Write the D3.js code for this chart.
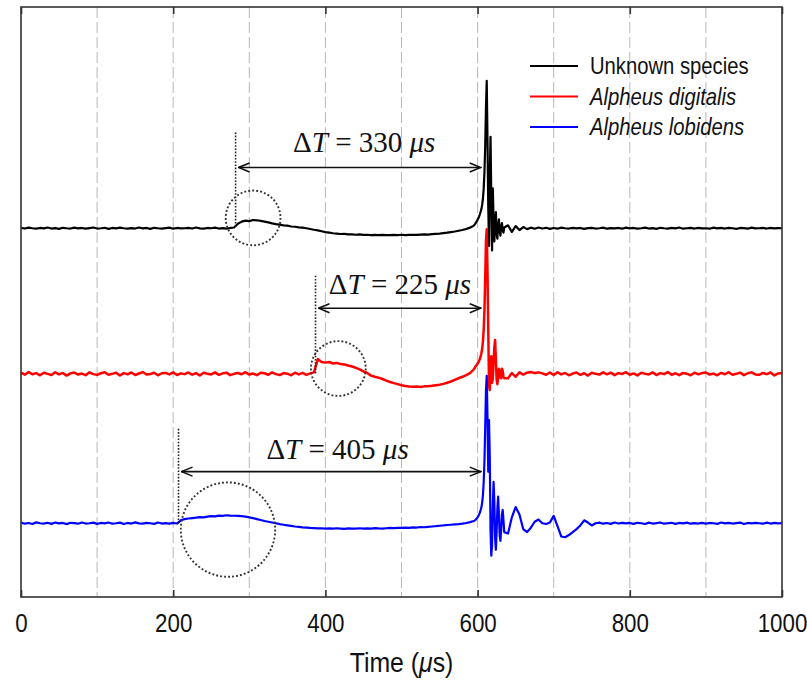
<!DOCTYPE html>
<html>
<head>
<meta charset="utf-8">
<script src="https://cdn.jsdelivr.net/npm/d3@7"></script>
<style>
  body { margin: 0; background: #fff; }
</style>
</head>
<body>
<div id="chart"></div>
<script>
// Sample times (µs) shared by the three recordings
const sampleTimes = [
  0, 5, 10, 15, 20, 25, 30, 35, 40, 45, 50, 55, 60, 65, 70, 75, 80, 85, 90, 95,
  100, 105, 110, 115, 120, 125, 130, 135, 140, 145, 150, 155, 160, 165, 170, 175, 180, 185, 190, 195,
  200, 205, 210, 215, 220, 225, 230, 235, 240, 245, 250, 255, 260, 265, 270, 275, 280, 285, 290, 295,
  300, 305, 310, 315, 320, 325, 330, 335, 340, 345, 350, 355, 360, 365, 370, 375, 380, 385, 390, 395,
  400, 405, 410, 415, 420, 425, 430, 435, 440, 445, 450, 455, 460, 465, 470, 475, 480, 485, 490, 495,
  500, 505, 510, 515, 520, 525, 530, 535, 540, 545, 550, 555, 560, 565, 570, 575, 580, 585, 590, 595,
  596, 597, 598, 599, 600, 601, 602, 603, 604, 605, 606, 607, 608, 609, 610, 611, 612, 613, 614, 615,
  616, 617, 618, 619, 620, 621, 622, 623, 624, 625, 626, 627, 628, 629, 630, 631, 632, 633, 634, 635,
  640, 645, 650, 655, 660, 665, 670, 675, 680, 685, 690, 695,
  700, 705, 710, 715, 720, 725, 730, 735, 740, 745, 750, 755, 760, 765, 770, 775, 780, 785, 790, 795,
  800, 805, 810, 815, 820, 825, 830, 835, 840, 845, 850, 855, 860, 865, 870, 875, 880, 885, 890, 895,
  900, 905, 910, 915, 920, 925, 930, 935, 940, 945, 950, 955, 960, 965, 970, 975, 980, 985, 990, 995,
  1000
];

// Signal amplitudes (arbitrary units, peak ~1000)
const unknownValues = [
  3, -2, 4, 0, -3, 2, -1, 5, -2, 1, -4, 3, 0, -2, 4, -1, 2, -3, 1, 5,
  -2, 0, 3, -4, 2, -1, 4, 0, -3, 1, -2, 5, -1, 2, -4, 3, 0, -2, 1, 4,
  -3, 2, -1, 0, 3, -2, 5, -1, -3, 2, 0, 4, -2, 1, -3, 2, 5, 30, 45, 52,
  48, 56, 54, 50, 45, 40, 33, 28, 24, 20, 18, 12, 10, 6, 4, 0, -5, -10, -14, -20,
  -26, -30, -34, -36, -39, -38, -42, -41, -44, -42, -45, -44, -46, -45, -47, -45, -46, -47, -45, -46,
  -44, -46, -45, -44, -45, -43, -42, -43, -40, -38, -36, -33, -30, -26, -22, -17, -12, -5, 4, 18,
  25, 32, 40, 48, 58, 68, 80, 95, 112, 130, 160, 200, 270, 380, 560, 820, 1000, 600, 150, -120,
  350, 620, 200, -150, 270, 60, -90, 40, 110, -40, -70, 30, 60, -20, -50, 10, 35, -15, -30, 5,
  20, -25, 15, -12, 8, -6, 4, -3, 5, -2, 3, -4,
  2, -3, 4, 0, -2, 3, -1, 2, -4, 1, 3, -2, 0, 4, -3, 1, -1, 2, -3, 4,
  -1, 2, -3, 0, 4, -2, 1, -4, 3, 0, -2, 2, -1, 5, -3, 0, 2, -2, 3, -1,
  0, -3, 4, -1, 2, -2, 3, 0, -4, 2, 1, -3, 4, -1, 0, 2, -2, 3, -1, 1,
  0
];

const digitalisValues = [
  8, -6, 12, -3, 5, -10, 7, 0, -8, 11, -4, 6, -12, 3, 9, -5, 2, -9, 10, -2,
  -7, 4, 11, -6, 0, 8, -11, 5, -3, 9, -8, 2, 12, -5, -1, 7, -10, 4, 6, -4,
  10, -8, 3, -2, 9, -6, 5, -11, 7, 1, -4, 10, -7, 3, 8, -9, 0, 6, -3, 11,
  -5, 2, -9, 7, 4, -6, 10, -2, -8, 5, 1, -10, 8, -4, 6, -7, 3, 10, 100, 80,
  76, 80, 70, 74, 66, 63, 56, 50, 41, 30, 16, 6, -12, -20, -26, -35, -46, -55, -63, -70,
  -77, -82, -86, -88, -86, -89, -85, -84, -81, -77, -74, -68, -60, -52, -41, -30, -20, -8, 5, 30,
  38, 48, 55, 60, 70, 78, 88, 100, 118, 140, 170, 220, 300, 430, 650, 900, 980, 700, 300, -80,
  -110, 60, 120, -60, -30, 80, 180, 230, 100, -40, -70, -20, 35, 20, -25, -30, 35, 20, -20, -30,
  -30, 5, -20, 10, -5, 8, 12, 5, 10, 3, -6, 9,
  -8, 11, -4, 6, -10, 2, 9, -7, 4, -12, 7, 0, -5, 10, -3, 8, -9, 5, -1, 11,
  -6, 3, -11, 8, 0, -4, 10, -8, 5, -2, 12, -7, 4, -9, 6, 1, -10, 8, -3, 5,
  9, -5, 2, -10, 7, -3, 11, -6, 0, 8, -9, 4, 10, -4, -7, 6, -2, 9, -11, 3,
  5
];

const lobidensValues = [
  4, -3, 2, -5, 6, 0, -2, 3, -4, 5, -1, 2, -6, 3, 1, -3, 5, -2, 0, 4,
  -4, 2, -1, 5, -3, 0, 4, -5, 2, -2, 6, -1, -3, 3, 0, -4, 5, -2, 1, -3,
  3, -2, 20, 28, 32, 35, 38, 42, 40, 45, 48, 47, 52, 50, 54, 52, 51, 50, 48, 45,
  40, 35, 28, 22, 15, 10, 5, 0, -6, -10, -14, -18, -22, -25, -28, -30, -32, -33, -35, -34,
  -36, -35, -37, -34, -36, -38, -35, -37, -36, -34, -37, -35, -36, -33, -35, -36, -34, -32, -33, -31,
  -32, -30, -31, -28, -29, -26, -27, -24, -22, -20, -17, -15, -12, -10, -8, -6, -3, 2, 8, 15,
  18, 22, 28, 34, 40, 50, 60, 72, 90, 110, 140, 190, 280, 420, 650, 900, 1000, 720, 350, 700,
  450, -50, -220, -150, 120, 280, 150, -100, -180, -60, 100, 180, 60, -80, -120, -40, 60, 90, 20, -60,
  -70, 40, 110, 60, -40, -60, -30, 10, 25, 0, -5, 5,
  50, -20, -90, -95, -80, -60, -40, -15, 20, 5, -15, 0, 4, -3, 2, -4, 5, -2, 3, -1,
  2, -4, 3, 0, -5, 4, -2, 1, 5, -3, 0, 3, -4, 2, -1, 4, -3, 1, -2, 3,
  -3, 2, 0, -4, 5, -1, 3, -2, 1, 4, -5, 2, -1, 3, 0, -3, 4, -2, 2, -1,
  1
];

const seriesNames = ["Unknown species", "Alpheus digitalis", "Alpheus lobidens"];
const seriesValues = [unknownValues, digitalisValues, lobidensValues];
const seriesOffsets = [2000, 1013, 0];   // vertical stacking of the traces

// Delta-T annotations (one per trace)
const onsetTimes = [282, 387, 207];
const deltaTimes = [330, 225, 405];
const markerHeights = [650, 665, 640];
const arrowLevels = [412, 445, 350];
const labelTimes = [451, 498, 416];
const labelLevels = [514, 542, 437];
const circleTimes = [305, 417, 272];
const circleLevels = [70, 36, -43];
const circleRadii = [36, 36, 62];      // in µs

const xTicks = [0, 200, 400, 600, 800, 1000];
const gridTimes = [100, 200, 300, 400, 500, 600, 700, 800, 900];

seriesValues.forEach(v => {
  if (v.length !== sampleTimes.length) throw new Error("length mismatch " + v.length);
});

const colors = ["#000000", "#ff0000", "#0000ff"];

// Set the dimensions and margins of the graph
const margin = { top: 7, right: 25, bottom: 88, left: 21 },
  width = 807 - margin.left - margin.right,
  height = 685 - margin.top - margin.bottom;

const svg = d3.select("#chart")
  .append("svg")
  .attr("width", 807)
  .attr("height", 685)
  .append("g")
  .attr("transform", `translate(${margin.left},${margin.top})`);

const x = d3.scaleLinear().domain([0, 1000]).range([0, width]);
const y = d3.scaleLinear().domain([-500, 3500]).range([height, 0]);

// Dashed grid lines
svg.append("g")
  .selectAll("line")
  .data(gridTimes)
  .join("line")
  .attr("x1", d => x(d))
  .attr("x2", d => x(d))
  .attr("y1", 0)
  .attr("y2", height)
  .attr("stroke", "#b8b8b8")
  .attr("stroke-width", 1)
  .attr("stroke-dasharray", "11,4");

// Open chevron arrow head (tip at 0, arms pointing back)
const defs = svg.append("defs");
defs.append("marker")
  .attr("id", "chev")
  .attr("viewBox", "-13 -6 14 12")
  .attr("refX", 0)
  .attr("refY", 0)
  .attr("markerWidth", 14)
  .attr("markerHeight", 12)
  .attr("markerUnits", "userSpaceOnUse")
  .attr("orient", "auto-start-reverse")
  .append("path")
  .attr("d", "M-11,-4.5 L0,0 L-11,4.5")
  .attr("fill", "none")
  .attr("stroke", "#111")
  .attr("stroke-width", 1.6);

// Traces
const line = d3.line()
  .x(d => x(d[0]))
  .y(d => y(d[1]));

seriesValues.forEach((vals, i) => {
  const pts = sampleTimes.map((t, j) => [t, vals[j] + seriesOffsets[i]]);
  svg.append("path")
    .datum(pts)
    .attr("fill", "none")
    .attr("stroke", colors[i])
    .attr("stroke-width", i === 1 ? 2.5 : 2.2)
    .attr("stroke-linejoin", "round")
    .attr("d", line);
});

// Annotations
const ann = svg.append("g");
onsetTimes.forEach((t0, i) => {
  const base = seriesOffsets[i];
  // dotted onset marker
  ann.append("line")
    .attr("x1", x(t0)).attr("x2", x(t0))
    .attr("y1", y(base + markerHeights[i])).attr("y2", y(base))
    .attr("stroke", "#222").attr("stroke-width", 1.6)
    .attr("stroke-dasharray", "1.6,1.6");

  // dotted circle
  ann.append("circle")
    .attr("cx", x(circleTimes[i]))
    .attr("cy", y(base + circleLevels[i]))
    .attr("r", x(circleRadii[i]) - x(0))
    .attr("fill", "none")
    .attr("stroke", "#333").attr("stroke-width", 1.9)
    .attr("stroke-dasharray", "1.9,2.1");

  // double arrow
  ann.append("line")
    .attr("x1", x(t0) + 3).attr("x2", x(t0 + deltaTimes[i]) - 6)
    .attr("y1", y(base + arrowLevels[i])).attr("y2", y(base + arrowLevels[i]))
    .attr("stroke", "#111").attr("stroke-width", 1.6)
    .attr("marker-start", "url(#chev)")
    .attr("marker-end", "url(#chev)");

  // label
  const txt = ann.append("text")
    .attr("x", x(labelTimes[i]))
    .attr("y", y(base + labelLevels[i]))
    .attr("text-anchor", "middle")
    .attr("font-family", "'Liberation Serif', 'Times New Roman', serif")
    .attr("font-size", 29)
    .attr("fill", "#111");
  txt.append("tspan").text("\u0394");
  txt.append("tspan").attr("font-style", "italic").text("T");
  txt.append("tspan").text(` = ${deltaTimes[i]} `);
  txt.append("tspan").attr("font-style", "italic").text("\u03bcs");
});

// Frame
svg.append("rect")
  .attr("x", 0).attr("y", 0)
  .attr("width", width).attr("height", height)
  .attr("fill", "none")
  .attr("stroke", "#333")
  .attr("stroke-width", 1.6);

// Add X axis (ticks inward, narrow labels)
const xAxis = svg.append("g")
  .attr("transform", `translate(0,${height})`)
  .call(d3.axisBottom(x).tickValues(xTicks).tickFormat(d3.format("d"))
    .tickSizeInner(-7).tickSizeOuter(0).tickPadding(17));
xAxis.select(".domain").remove();
xAxis.selectAll(".tick line").attr("stroke", "#333").attr("stroke-width", 1.6);
xAxis.selectAll(".tick text")
  .attr("font-family", "'Liberation Sans', Arial, sans-serif")
  .attr("font-size", 26)
  .attr("transform", "scale(0.86,1)")
  .attr("fill", "#111");

const xTop = svg.append("g")
  .call(d3.axisTop(x).tickValues(xTicks).tickSizeInner(-7).tickSizeOuter(0).tickFormat(""));
xTop.select(".domain").remove();
xTop.selectAll(".tick line").attr("stroke", "#333").attr("stroke-width", 1.6);

// Axis title
const title = svg.append("text")
  .attr("transform", `translate(${width / 2},${height + 75}) scale(0.92,1)`)
  .attr("text-anchor", "middle")
  .attr("font-family", "'Liberation Sans', Arial, sans-serif")
  .attr("font-size", 27)
  .attr("fill", "#111");
title.append("tspan").text("Time (");
title.append("tspan").attr("font-style", "italic").text("\u03bc");
title.append("tspan").text("s)");

// Legend
const legend = svg.append("g").attr("transform", `translate(${530 - margin.left},${66 - margin.top})`);
seriesNames.forEach((name, i) => {
  const g = legend.append("g").attr("transform", `translate(0,${i * 30.5})`);
  g.append("line")
    .attr("x1", 0).attr("x2", 48)
    .attr("stroke", colors[i]).attr("stroke-width", 2);
  g.append("text")
    .attr("transform", "translate(60,8) scale(0.88,1)")
    .attr("font-family", "'Liberation Sans', Arial, sans-serif")
    .attr("font-size", 23)
    .attr("font-style", i === 0 ? "normal" : "italic")
    .attr("fill", "#111")
    .text(name);
});
</script>
</body>
</html>
